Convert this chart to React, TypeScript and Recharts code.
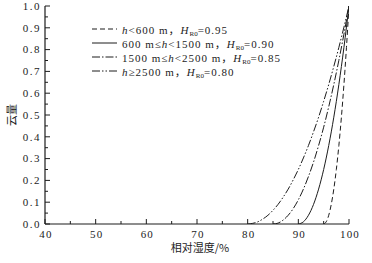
import { LineChart, Line, XAxis, YAxis, Legend } from 'recharts';

// relative humidity (%) / cloud amount
const RH_080 = [80, 81, 82, 83, 84, 85, 86, 87, 88, 89, 90, 91, 92, 93, 94, 95, 96, 97, 98, 99, 100];
const CLOUD_080 = [0, 0.003, 0.01, 0.023, 0.04, 0.063, 0.09, 0.123, 0.16, 0.203, 0.25, 0.303, 0.36, 0.423, 0.49, 0.563, 0.64, 0.723, 0.81, 0.903, 1.0];

const RH_085 = [85, 86, 87, 88, 89, 90, 91, 92, 93, 94, 95, 96, 97, 98, 99, 100];
const CLOUD_085 = [0, 0.004, 0.018, 0.04, 0.071, 0.111, 0.16, 0.218, 0.284, 0.36, 0.444, 0.538, 0.64, 0.751, 0.871, 1.0];

const RH_090 = [90, 91, 92, 93, 94, 95, 96, 97, 98, 99, 100];
const CLOUD_090 = [0, 0.01, 0.04, 0.09, 0.16, 0.25, 0.36, 0.49, 0.64, 0.81, 1.0];

const RH_095 = [95, 95.5, 96, 96.5, 97, 97.5, 98, 98.5, 99, 99.5, 100];
const CLOUD_095 = [0, 0.01, 0.04, 0.09, 0.16, 0.25, 0.36, 0.49, 0.64, 0.81, 1.0];

const HEIGHT_RANGES = ['h<600 m', '600 m≤h<1500 m', '1500 m≤h<2500 m', 'h≥2500 m'];
const HR0_VALUES = ['0.95', '0.90', '0.85', '0.80'];

const X_TICKS = [40, 45, 50, 55, 60, 65, 70, 75, 80, 85, 90, 95, 100];
const Y_TICKS = [0, 0.05, 0.1, 0.15, 0.2, 0.25, 0.3, 0.35, 0.4, 0.45, 0.5, 0.55, 0.6, 0.65, 0.7, 0.75, 0.8, 0.85, 0.9, 0.95, 1.0];

const INK = '#1c1c1c';
const FONT = "'Liberation Serif', 'DejaVu Serif', 'Noto Sans CJK SC', serif";
const CJK_FONT = "'Noto Sans CJK SC', 'Liberation Serif', serif";

const DASHES = ['5 3', undefined, '8 2 1.5 2', '8 2 1.5 2 1.5 2'];

const toPoints = (xs: number[], ys: number[]) => xs.map((rh, i) => ({ rh, cloud: ys[i] }));

const series = [
  { key: 'h95', data: toPoints(RH_095, CLOUD_095) },
  { key: 'h90', data: toPoints(RH_090, CLOUD_090) },
  { key: 'h85', data: toPoints(RH_085, CLOUD_085) },
  { key: 'h80', data: toPoints(RH_080, CLOUD_080) },
].map((s, i) => ({ ...s, dash: DASHES[i], range: HEIGHT_RANGES[i], hr0: HR0_VALUES[i] }));

const isMajorX = (v: number) => v % 10 === 0;
const isMajorY = (v: number) => Math.round(v * 100) % 10 === 0;

function BottomTick({ x, y, payload }: any) {
  const major = isMajorX(payload.value);
  return (
    <g>
      <line x1={x} x2={x} y1={y} y2={y - (major ? 5 : 3)} stroke={INK} strokeWidth={1} />
      {major && (
        <text x={x + 1} y={y + 14} textAnchor="middle" fontSize={11} letterSpacing={1.2} fill={INK} fontFamily={FONT}>
          {payload.value}
        </text>
      )}
    </g>
  );
}

function TopTick({ x, y, payload }: any) {
  const major = isMajorX(payload.value);
  return <line x1={x} x2={x} y1={y} y2={y + (major ? 5 : 3)} stroke={INK} strokeWidth={1} />;
}

function LeftTick({ x, y, payload }: any) {
  const major = isMajorY(payload.value);
  return (
    <g>
      <line x1={x} x2={x + (major ? 5 : 3)} y1={y} y2={y} stroke={INK} strokeWidth={1} />
      {major && (
        <text x={x - 4} y={y} dy="0.35em" textAnchor="end" fontSize={11} letterSpacing={1.5} fill={INK} fontFamily={FONT}>
          {payload.value.toFixed(1)}
        </text>
      )}
    </g>
  );
}

function RightTick({ x, y, payload }: any) {
  const major = isMajorY(payload.value);
  return <line x1={x} x2={x - (major ? 5 : 3)} y1={y} y2={y} stroke={INK} strokeWidth={1} />;
}

function rangeText(range: string) {
  const parts = range.split('h');
  return parts.map((p, i) => (
    <span key={i}>
      {i > 0 && <i>h</i>}
      {p}
    </span>
  ));
}

function CurveLegend() {
  return (
    <div style={{ fontFamily: FONT, fontSize: 11, letterSpacing: 1, color: INK }}>
      {series.map((s) => (
        <div key={s.key} style={{ display: 'flex', alignItems: 'center', height: 14, whiteSpace: 'nowrap' }}>
          <svg width={26} height={10} style={{ marginRight: 4 }}>
            <line x1={0} x2={25} y1={5} y2={5} stroke={INK} strokeWidth={1} strokeDasharray={s.dash} />
          </svg>
          <span>
            {rangeText(s.range)}，<i>H</i>
            <sub style={{ fontSize: 7, letterSpacing: 0, verticalAlign: -2 }}>R0</sub>={s.hr0}
          </span>
        </div>
      ))}
    </div>
  );
}

export default function App() {
  return (
    <div style={{ position: 'absolute', left: 0, top: 0, width: 372, height: 263, background: '#fff' }}>
      <LineChart width={372} height={263} margin={{ top: 6, right: 23, bottom: 0, left: 0 }}>
        <XAxis
          type="number"
          dataKey="rh"
          domain={[40, 100]}
          ticks={X_TICKS}
          interval={0}
          allowDataOverflow
          height={39}
          tickSize={0}
          tickMargin={0}
          tickLine={false}
          axisLine={{ stroke: INK, strokeWidth: 1.2 }}
          tick={BottomTick}
          label={({ viewBox }: any) => (
            <text
              x={viewBox.x + viewBox.width / 2 + 3}
              y={viewBox.y + 28}
              textAnchor="middle"
              fontSize={11}
              fill={INK}
              fontFamily={CJK_FONT}
            >
              相对湿度/%
            </text>
          )}
        />
        <XAxis
          xAxisId="top"
          orientation="top"
          type="number"
          domain={[40, 100]}
          ticks={X_TICKS}
          interval={0}
          allowDataOverflow
          height={0}
          tickSize={0}
          tickMargin={0}
          tickLine={false}
          axisLine={{ stroke: INK, strokeWidth: 1.2 }}
          tick={TopTick}
        />
        <YAxis
          type="number"
          domain={[0, 1]}
          ticks={Y_TICKS}
          interval={0}
          allowDataOverflow
          width={45}
          tickSize={0}
          tickMargin={0}
          tickLine={false}
          axisLine={{ stroke: INK, strokeWidth: 1.2 }}
          tick={LeftTick}
          label={({ viewBox }: any) => {
            const cx = viewBox.x + 12;
            const cy = viewBox.y + viewBox.height / 2;
            return (
              <text
                x={cx}
                y={cy}
                dy="0.35em"
                textAnchor="middle"
                transform={`rotate(-90 ${cx} ${cy})`}
                fontSize={11}
                fill={INK}
                fontFamily={CJK_FONT}
              >
                云量
              </text>
            );
          }}
        />
        <YAxis
          yAxisId="right"
          orientation="right"
          type="number"
          domain={[0, 1]}
          ticks={Y_TICKS}
          interval={0}
          allowDataOverflow
          width={0}
          tickSize={0}
          tickMargin={0}
          tickLine={false}
          axisLine={{ stroke: INK, strokeWidth: 1.2 }}
          tick={RightTick}
        />
        {series.map((s) => (
          <Line
            key={s.key}
            data={s.data}
            dataKey="cloud"
            type="monotone"
            stroke={INK}
            strokeWidth={1}
            strokeDasharray={s.dash}
            dot={false}
            activeDot={false}
            isAnimationActive={false}
          />
        ))}
        <Legend
          layout="horizontal"
          verticalAlign="middle"
          align="center"
          content={<CurveLegend />}
          wrapperStyle={{ left: 92, top: 22, width: 'auto', height: 'auto' }}
        />
      </LineChart>
    </div>
  );
}
